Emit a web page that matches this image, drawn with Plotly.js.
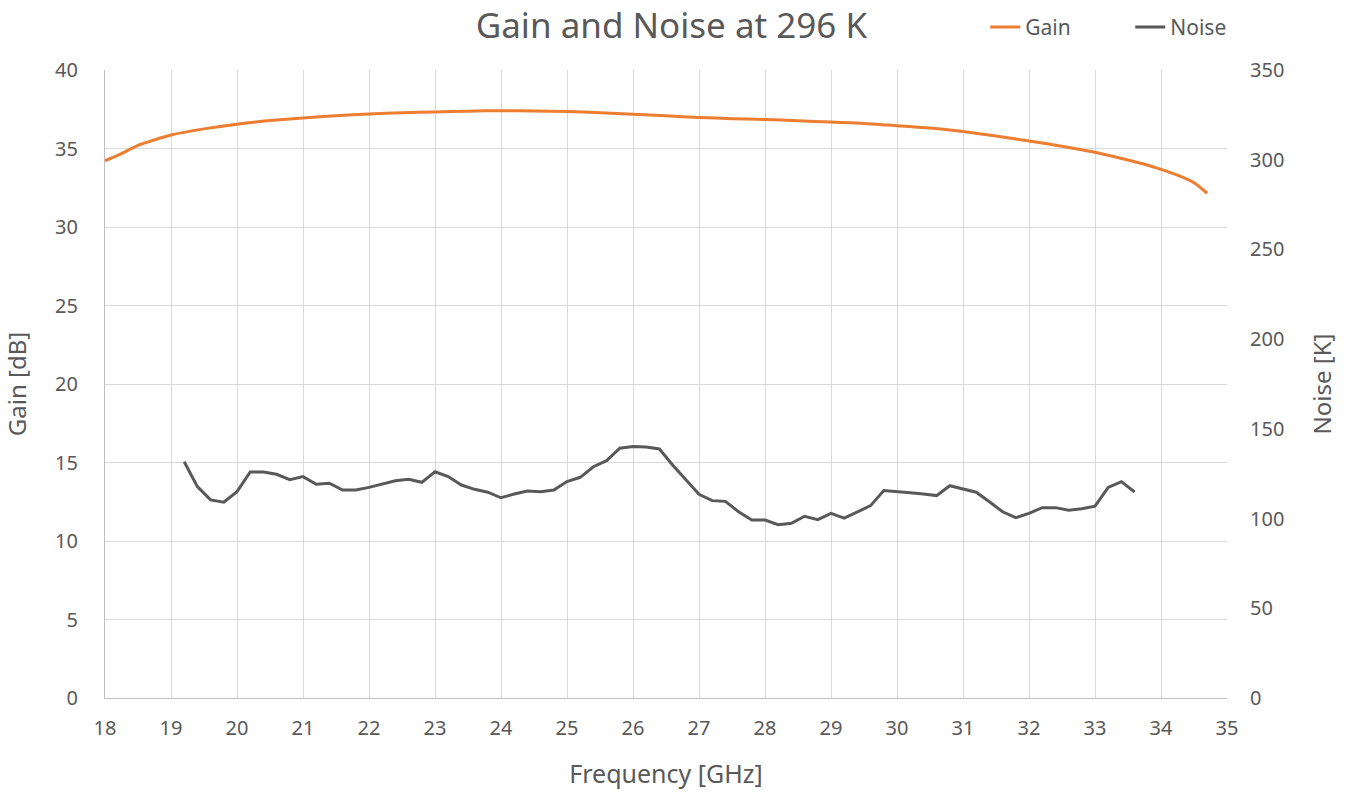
<!DOCTYPE html>
<html>
<head>
<meta charset="utf-8">
<script src="https://cdn.plot.ly/plotly-3.0.1.min.js"></script>
<style>html,body{margin:0;padding:0;background:#fff;}#chart{width:1351px;height:797px;}</style>
</head>
<body>
<div id="chart"></div>
<script>
const gainFreq = [18, 18.25, 18.5, 18.75, 19, 19.5, 20, 20.5, 21, 21.5, 22, 22.5, 23, 23.5, 24, 24.5, 25, 25.5, 26, 26.5, 27, 27.5, 28, 28.5, 29, 29.5, 30, 30.5, 31, 31.5, 32, 32.5, 33, 33.25, 33.5, 33.75, 34, 34.25, 34.5, 34.7];
const gainDb = [34.22, 34.68, 35.2, 35.55, 35.86, 36.25, 36.55, 36.78, 36.95, 37.08, 37.2, 37.28, 37.33, 37.38, 37.41, 37.39, 37.35, 37.28, 37.18, 37.08, 36.98, 36.9, 36.85, 36.77, 36.68, 36.6, 36.45, 36.3, 36.08, 35.8, 35.48, 35.15, 34.76, 34.52, 34.27, 34.0, 33.67, 33.3, 32.82, 32.15];

const noiseFreq = [19.2, 19.4, 19.6, 19.8, 20.0, 20.2, 20.4, 20.6, 20.8, 21.0, 21.2, 21.4, 21.6, 21.8, 22.0, 22.2, 22.4, 22.6, 22.8, 23.0, 23.2, 23.4, 23.6, 23.8, 24.0, 24.2, 24.4, 24.6, 24.8, 25.0, 25.2, 25.4, 25.6, 25.8, 26.0, 26.2, 26.4, 26.6, 26.8, 27.0, 27.2, 27.4, 27.6, 27.8, 28.0, 28.2, 28.4, 28.6, 28.8, 29.0, 29.2, 29.4, 29.6, 29.8, 30.0, 30.2, 30.4, 30.6, 30.8, 31.0, 31.2, 31.4, 31.6, 31.8, 32.0, 32.2, 32.4, 32.6, 32.8, 33.0, 33.2, 33.4, 33.6];
const noiseK = [131.7, 117.8, 110.4, 109.1, 115.0, 126.0, 126.0, 124.7, 121.7, 123.4, 119.1, 119.7, 115.9, 115.9, 117.4, 119.3, 121.1, 121.9, 120.2, 126.1, 123.4, 118.7, 116.3, 114.7, 111.6, 113.7, 115.4, 115.0, 115.9, 120.6, 123.0, 128.9, 132.3, 139.2, 140.1, 139.9, 138.8, 129.9, 121.9, 113.5, 110.0, 109.6, 103.8, 99.2, 99.2, 96.6, 97.4, 101.3, 99.4, 102.9, 100.2, 103.8, 107.2, 115.6, 114.8, 114.4, 113.7, 112.8, 118.3, 116.3, 114.7, 109.4, 103.8, 100.5, 102.9, 106.1, 106.1, 104.6, 105.5, 106.9, 117.4, 120.6, 114.8];

const FONT = "Noto Sans, DejaVu Sans, sans-serif";
const GREY = "#595959";

const traces = [
  {x: gainFreq, y: gainDb, name: "Gain", type: "scatter", mode: "lines",
   line: {color: "#ED7D31", width: 3, shape: "spline", smoothing: 0.6}, yaxis: "y"},
  {x: noiseFreq, y: noiseK, name: "Noise", type: "scatter", mode: "lines",
   line: {color: GREY, width: 3}, yaxis: "y2"}
];

const layout = {
  width: 1351, height: 797,
  margin: {l: 105, r: 124, t: 70, b: 99, autoexpand: false},
  paper_bgcolor: "#fff", plot_bgcolor: "#fff",
  font: {family: FONT, color: GREY, size: 20},
  title: {text: "Gain and Noise at 296 K", x: 0.497, xanchor: "center", y: 0.968, yanchor: "middle",
          font: {family: FONT, size: 35, color: GREY}},
  showlegend: true,
  legend: {orientation: "h", x: 1.043, xanchor: "right", y: 1.068, yanchor: "middle",
           font: {family: FONT, size: 21, color: GREY}, bgcolor: "rgba(0,0,0,0)",
           entrywidth: 100, entrywidthmode: "pixels"},
  xaxis: {range: [18, 35], dtick: 1, tick0: 18, showgrid: true, gridcolor: "#d9d9d9", gridwidth: 1,
          showline: true, linecolor: "#bfbfbf", linewidth: 1, zeroline: false, ticks: "", ticklabelstandoff: 12,
          tickfont: {family: FONT, size: 20, color: GREY},
          title: {text: "Frequency [GHz]", font: {family: FONT, size: 25, color: GREY}, standoff: 25}},
  yaxis: {range: [0, 40], dtick: 5, tick0: 0, showgrid: true, gridcolor: "#d9d9d9", gridwidth: 1,
          showline: true, linecolor: "#bfbfbf", linewidth: 1, zeroline: false, ticks: "", ticklabelstandoff: 22,
          tickfont: {family: FONT, size: 20, color: GREY},
          title: {text: "Gain [dB]", font: {family: FONT, size: 24, color: GREY}, standoff: 22}},
  yaxis2: {range: [0, 350], dtick: 50, tick0: 0, overlaying: "y", side: "right", showgrid: false,
           showline: false, zeroline: false, ticks: "", ticklabelstandoff: 22,
           tickfont: {family: FONT, size: 20, color: GREY},
           title: {text: "Noise [K]", font: {family: FONT, size: 24, color: GREY}, standoff: 30}}
};

Plotly.newPlot("chart", traces, layout, {displayModeBar: false, staticPlot: true});
</script>
</body>
</html>
